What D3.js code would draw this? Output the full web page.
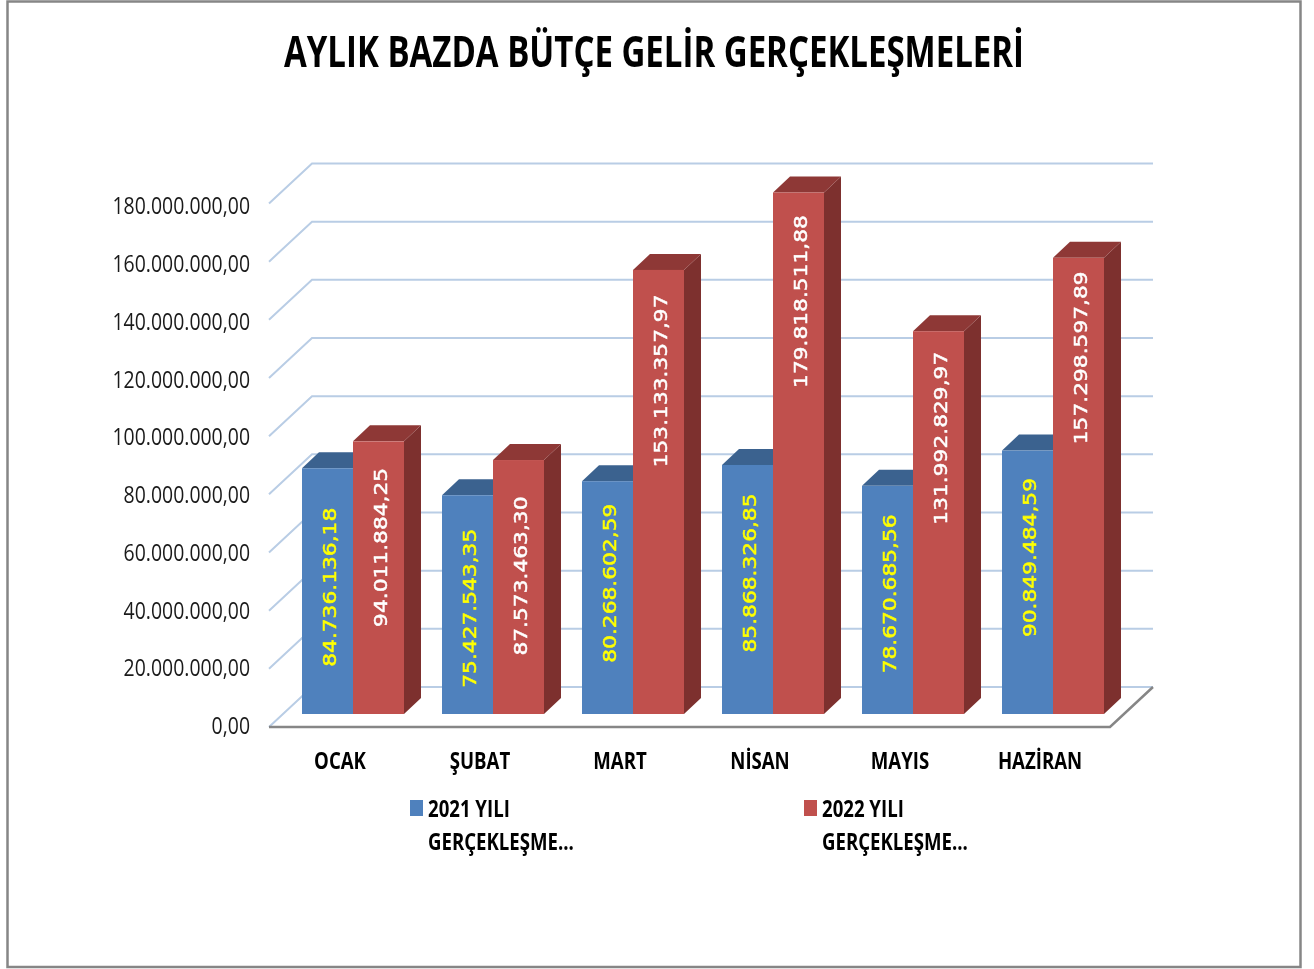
<!DOCTYPE html>
<html lang="tr">
<head>
<meta charset="utf-8">
<script src="https://cdn.jsdelivr.net/npm/d3@7"></script>
<style>
html,body{margin:0;padding:0;background:#fff}
svg{display:block;filter:blur(0.45px)}
</style>
</head>
<body>
<svg id="chart" width="1314" height="969"></svg>
<script>
const titleText = "AYLIK BAZDA BÜTÇE GELİR GERÇEKLEŞMELERİ";
const months = ["OCAK","ŞUBAT","MART","NİSAN","MAYIS","HAZİRAN"];
const seriesNames = ["2021 YILI GERÇEKLEŞME...","2022 YILI GERÇEKLEŞME..."];
const values2021 = [84736136.18,75427543.35,80268602.59,85868326.85,78670685.56,90849484.59];
const values2022 = [94011884.25,87573463.30,153133357.97,179818511.88,131992829.97,157298597.89];
const axisTicks = [0,20e6,40e6,60e6,80e6,100e6,120e6,140e6,160e6,180e6];
// hand-placed data label nudges in the original (px along the bar)
const labelNudge2021 = [11,5,-6,0,0,-1];
const labelNudge2022 = [-2,8,3,1,-1,-8];

const svg=d3.select("#chart");
const colors=[{front:"#4F81BD",top:"#3B628F",side:"#3B628F",label:"#FFFF00"},
              {front:"#C0504D",top:"#8E3836",side:"#7D302E",label:"#FFFFFF"}];
const fmt=d3.formatLocale({decimal:",",thousands:".",grouping:[3],currency:["",""]}).format(",.2f");
const sans='"Open Sans",sans-serif';
// Squeeze the text horizontally to imitate the narrow face of the original.
function squeeze(sel,f){
  sel.each(function(){
    d3.select(this).attr("textLength",this.getComputedTextLength()*f).attr("lengthAdjust","spacingAndGlyphs");
  });
}

const depthWall={x:43,y:-40}, depthBar={x:17,y:-16};
const xOuter=d3.scaleBand().domain(months).range([269,1109]);
const xInner=d3.scaleBand().domain([0,1]).range([33,135]);
const yAxisScale=d3.scaleLinear().domain([0,180e6]).range([727,203.5]);
const yBar=d3.scaleLinear().domain([0,180e6]).range([714,192]);
const fl=xOuter.range()[0], fr=xOuter.range()[1]+1, fy=yAxisScale(0);

// frame
svg.append("rect").attr("x",7.5).attr("y",1.5).attr("width",1293).attr("height",965.5)
  .attr("fill","#fff").attr("stroke","#868686").attr("stroke-width",2.5);

// title
svg.append("text").attr("x",654).attr("y",67).attr("text-anchor","middle")
  .attr("font-family",sans).attr("font-weight",700).attr("font-size",43)
  .attr("fill","#000").text(titleText)
  .attr("textLength",740).attr("lengthAdjust","spacingAndGlyphs");

// gridlines on wall
const grid=svg.append("g").attr("fill","none").attr("stroke","#B9CDE5").attr("stroke-width",2);
grid.selectAll("polyline").data(axisTicks).join("polyline")
  .attr("points",d=>{
    const y=yAxisScale(d);
    return [[fl,y],[fl+depthWall.x,y+depthWall.y],[fr+depthWall.x,y+depthWall.y]].join(" ");
  });

// floor edge
svg.append("polyline").attr("fill","none").attr("stroke","#868686").attr("stroke-width",2.5)
  .attr("points",[[fl,fy],[fr,fy],[fr+depthWall.x,fy+depthWall.y]].join(" "));

// bars
const rows=months.flatMap((m,i)=>[values2021[i],values2022[i]].map((v,s)=>({m,i,s,v})));
const bars=svg.append("g").selectAll("g").data(rows).join("g");
const bx=d=>xOuter(d.m)+xInner(d.s), bw=xInner.bandwidth();
bars.append("polygon").attr("fill",d=>colors[d.s].side).attr("points",d=>{
  const x=bx(d)+bw,t=yBar(d.v),b=yBar(0);
  return [[x,t],[x+depthBar.x,t+depthBar.y],[x+depthBar.x,b+depthBar.y],[x,b]].join(" ");});
bars.append("polygon").attr("fill",d=>colors[d.s].top).attr("points",d=>{
  const x=bx(d),t=yBar(d.v);
  return [[x,t],[x+bw,t],[x+bw+depthBar.x,t+depthBar.y],[x+depthBar.x,t+depthBar.y]].join(" ");});
bars.append("rect").attr("fill",d=>colors[d.s].front)
  .attr("x",bx).attr("y",d=>yBar(d.v)).attr("width",bw).attr("height",d=>yBar(0)-yBar(d.v));

// data labels
bars.append("text")
  .attr("transform",d=>{
    const nudge=(d.s?labelNudge2022:labelNudge2021)[d.i];
    return `translate(${bx(d)+bw/2+2},${yBar(d.v)+108+nudge}) rotate(-90)`;})
  .attr("text-anchor","middle").attr("dy","0.36em")
  .attr("font-family",'"DejaVu Sans",sans-serif').attr("font-size",18.5)
  .attr("fill",d=>colors[d.s].label).attr("stroke",d=>colors[d.s].label).attr("stroke-width",0.5)
  .text(d=>fmt(d.v))
  .call(squeeze,1.175);

// value axis
const yAxis=svg.append("g").attr("transform","translate(250,0)")
  .call(d3.axisLeft(yAxisScale.copy().range([726,206])).tickValues(axisTicks).tickFormat(fmt).tickSize(0).tickPadding(0));
yAxis.select(".domain").remove();
yAxis.selectAll("text").attr("font-family",sans).attr("font-size",24).attr("fill","#1a1a1a").call(squeeze,0.81);

// category axis
const xAxis=svg.append("g").attr("transform","translate(1,752)")
  .call(d3.axisBottom(xOuter).tickSize(0).tickPadding(0));
xAxis.select(".domain").remove();
xAxis.selectAll("text").attr("font-family",sans).attr("font-weight",700).attr("font-size",24).attr("fill","#000").call(squeeze,0.775);

// legend
const legendX=[410,804];
const legend=svg.append("g").selectAll("g").data(seriesNames).join("g")
  .attr("transform",(d,i)=>`translate(${legendX[i]},0)`);
legend.append("rect").attr("x",0).attr("y",800).attr("width",13).attr("height",16)
  .attr("fill",(d,i)=>colors[i].front);
legend.append("text").attr("x",18).attr("y",817)
  .attr("font-family",sans).attr("font-weight",700).attr("font-size",24).attr("fill","#000")
  .text(d=>d.split(" ").slice(0,2).join(" ")).call(squeeze,0.775);
legend.append("text").attr("x",18).attr("y",850)
  .attr("font-family",sans).attr("font-weight",700).attr("font-size",24).attr("fill","#000")
  .text(d=>d.split(" ")[2]).call(squeeze,0.775);
</script>
</body>
</html>
